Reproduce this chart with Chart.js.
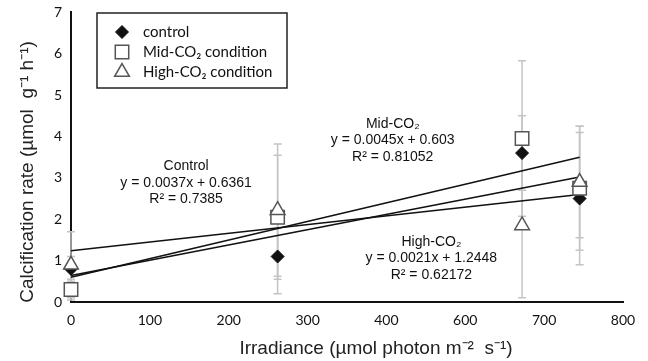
<!DOCTYPE html>
<html>
<head>
<meta charset="utf-8">
<script src="https://cdn.jsdelivr.net/npm/chart.js@4.4.1/dist/chart.umd.min.js"></script>
<style>
html,body{margin:0;padding:0;background:#fff;}
#wrap{width:648px;height:361px;position:relative;}
</style>
</head>
<body>
<div id="wrap"><canvas id="c" width="648" height="361"></canvas></div>
<script>
// ---- data ----
const irradiance = [0, 262, 572, 645];
const controlVals = [0.80, 1.10, 3.60, 2.50];
const controlErr  = [0.30, 0.90, 0.90, 1.60];
const midVals     = [0.30, 2.05, 3.95, 2.75];
const midErr      = [0.25, 1.50, 1.88, 1.50];
const highVals    = [0.90, 2.22, 1.85, 2.90];
const highErr     = [0.80, 1.60, 1.75, 1.35];
const trendX        = [0, 645];
const controlTrendY = [0.64, 3.02];
const midTrendY     = [0.60, 3.50];
const highTrendY    = [1.24, 2.60];
const xTickLabels = ['0','100','200','300','400','600','700','800'];
const yTickLabels = ['0','1','2','3','4','5','6','7'];
const seriesNames = ['control', 'Mid-CO\u2082 condition', 'High-CO\u2082 condition'];
const xTitle = 'Irradiance (\u00b5mol photon m\u207b\u00b2  s\u207b\u00b9)';
const yTitle = 'Calcification rate (\u00b5mol  g\u207b\u00b9 h\u207b\u00b9)';
const annotations = [
  {x: 146, y: 3.28, lines: ['Control', 'y = 0.0037x + 0.6361', 'R\u00b2 = 0.7385']},
  {x: 408, y: 4.30, lines: ['Mid-CO\u2082', 'y = 0.0045x + 0.603', 'R\u00b2 = 0.81052']},
  {x: 457, y: 1.45, lines: ['High-CO\u2082', 'y = 0.0021x + 1.2448', 'R\u00b2 = 0.62172']}
];

const pts = (xs, ys) => xs.map((x, i) => ({x: x, y: ys[i]}));

const errorBars = {
  id: 'errorBars',
  beforeDatasetsDraw(chart) {
    const ctx = chart.ctx, xs = chart.scales.x, ys = chart.scales.y;
    ctx.save();
    ctx.strokeStyle = '#c4c4c4';
    ctx.lineWidth = 1.5;
    chart.data.datasets.forEach(ds => {
      if (!ds.err) return;
      ds.data.forEach((p, i) => {
        const px = xs.getPixelForValue(p.x);
        const top = ys.getPixelForValue(Math.min(7, p.y + ds.err[i]));
        const bot = ys.getPixelForValue(Math.max(0, p.y - ds.err[i]));
        ctx.beginPath();
        ctx.moveTo(px, top); ctx.lineTo(px, bot);
        ctx.moveTo(px - 4, top); ctx.lineTo(px + 4, top);
        ctx.moveTo(px - 4, bot); ctx.lineTo(px + 4, bot);
        ctx.stroke();
      });
    });
    ctx.restore();
  }
};

const extras = {
  id: 'extras',
  afterDraw(chart) {
    const ctx = chart.ctx, xs = chart.scales.x, ys = chart.scales.y;
    ctx.save();
    // annotations
    ctx.fillStyle = '#111';
    ctx.font = '14px "Liberation Sans", Arial, sans-serif';
    ctx.textAlign = 'center';
    ctx.textBaseline = 'middle';
    annotations.forEach(a => {
      const cx = xs.getPixelForValue(a.x), cy = ys.getPixelForValue(a.y);
      a.lines.forEach((t, i) => ctx.fillText(t, cx, cy + i * 16.5));
    });
    // axis titles
    ctx.fillStyle = '#222';
    ctx.font = '19px "Liberation Sans", Arial, sans-serif';
    ctx.fillText(xTitle, 376, 349);
    ctx.save();
    ctx.translate(28, 172);
    ctx.rotate(-Math.PI / 2);
    ctx.fillText(yTitle, 0, 0);
    ctx.restore();
    // legend box
    const lx = 97, ly = 13, lw = 190, lh = 75;
    ctx.fillStyle = '#fff';
    ctx.fillRect(lx, ly, lw, lh);
    ctx.strokeStyle = '#222';
    ctx.lineWidth = 1.5;
    ctx.strokeRect(lx, ly, lw, lh);
    ctx.font = '15px Lato, "Open Sans", sans-serif';
    ctx.textAlign = 'left';
    chart.data.datasets.slice(0, 3).forEach((ds, i) => {
      const yy = ly + 19 + i * 20;
      ctx.save();
      ctx.fillStyle = ds.backgroundColor;
      ctx.strokeStyle = ds.borderColor;
      ctx.lineWidth = ds.borderWidth;
      Chart.helpers.drawPoint(ctx, {pointStyle: ds.pointStyle, radius: ds.pointRadius, borderWidth: ds.borderWidth}, 122, yy);
      ctx.restore();
      ctx.fillStyle = '#111';
      ctx.fillText(seriesNames[i], 143, yy);
    });
    ctx.restore();
  }
};

const trendStyle = {type: 'line', showLine: true, borderColor: '#111', borderWidth: 1.6,
  pointRadius: 0, fill: false, err: null, clip: false};

new Chart(document.getElementById('c'), {
  type: 'scatter',
  data: {
    datasets: [
      {label: seriesNames[0], data: pts(irradiance, controlVals), err: controlErr, clip: false,
       pointStyle: 'rectRot', pointRadius: 6.5, backgroundColor: '#111', borderColor: '#111', borderWidth: 1, order: 2},
      {label: seriesNames[1], data: pts(irradiance, midVals), err: midErr, clip: false,
       pointStyle: 'rect', pointRadius: 9.5, backgroundColor: '#fff', borderColor: '#555', borderWidth: 1.5, order: 1},
      {label: seriesNames[2], data: pts(irradiance, highVals), err: highErr, clip: false,
       pointStyle: 'triangle', pointRadius: 8.5, backgroundColor: '#fff', borderColor: '#555', borderWidth: 1.5, order: 0},
      Object.assign({label: 'ct', data: pts(trendX, controlTrendY), order: 3}, trendStyle),
      Object.assign({label: 'mt', data: pts(trendX, midTrendY), order: 3}, trendStyle),
      Object.assign({label: 'ht', data: pts(trendX, highTrendY), order: 3}, trendStyle)
    ]
  },
  options: {
    responsive: false,
    animation: false,
    devicePixelRatio: 1,
    layout: {padding: {top: 12, right: 25, left: 0, bottom: 0}},
    plugins: {legend: {display: false}, tooltip: {enabled: false}},
    scales: {
      x: {
        type: 'linear', min: 0, max: 700,
        grid: {display: false, drawOnChartArea: false, drawTicks: true, tickLength: 5, tickWidth: 2, tickColor: '#111'},
        border: {color: '#111', width: 2, z: 1},
        ticks: {stepSize: 100, color: '#111', padding: 5,
          font: {family: 'Lato, "Open Sans", sans-serif', size: 14},
          callback: (v, i) => xTickLabels[i]},
        title: {display: false},
        afterFit: s => { s.height = 59; }
      },
      y: {
        type: 'linear', min: 0, max: 7,
        grid: {display: false, drawOnChartArea: false, drawTicks: true, tickLength: 5, tickWidth: 2, tickColor: '#111'},
        border: {color: '#111', width: 2},
        ticks: {stepSize: 1, color: '#111', padding: 4,
          font: {family: 'Lato, "Open Sans", sans-serif', size: 14},
          callback: (v, i) => yTickLabels[i]},
        title: {display: false},
        afterFit: s => { s.width = 71; }
      }
    }
  },
  plugins: [errorBars, extras]
});
</script>
</body>
</html>
